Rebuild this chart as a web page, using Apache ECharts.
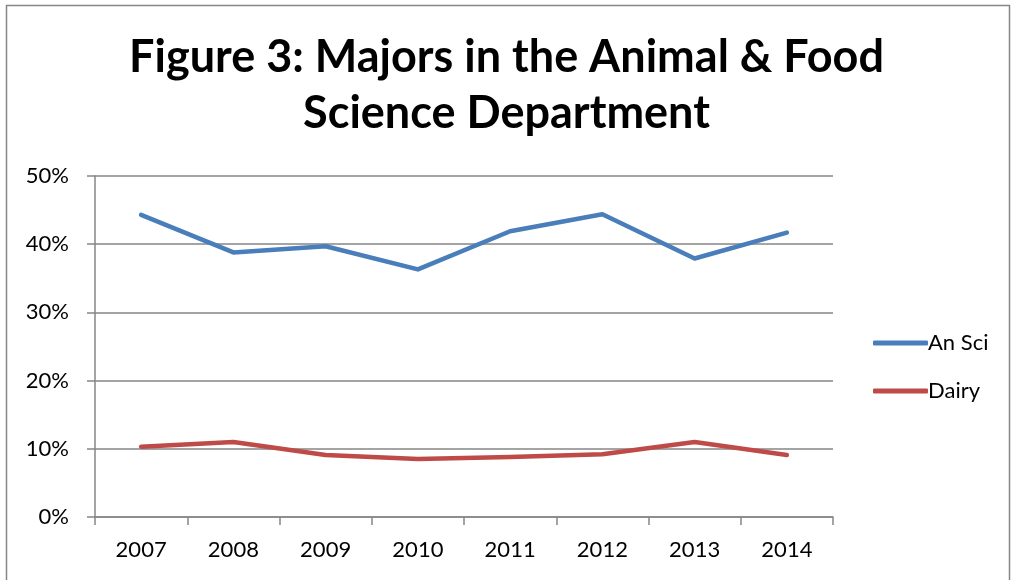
<!DOCTYPE html>
<html>
<head>
<meta charset="utf-8">
<script src="https://cdn.jsdelivr.net/npm/echarts@6/dist/echarts.min.js"></script>
<style>
  html, body { margin: 0; padding: 0; background: #fff; }
  #chart { width: 1013px; height: 580px; }
</style>
</head>
<body>
<div id="chart"></div>
<script>
// data
var years = ["2007", "2008", "2009", "2010", "2011", "2012", "2013", "2014"];
var anSci = [0.443, 0.388, 0.397, 0.363, 0.419, 0.444, 0.379, 0.417];
var dairy = [0.103, 0.110, 0.091, 0.085, 0.088, 0.092, 0.110, 0.091];
var yTicks = [0, 0.1, 0.2, 0.3, 0.4, 0.5];

var chart = echarts.init(document.getElementById('chart'));

var font = 'Lato, "Open Sans", sans-serif';
var axisGray = '#868686';

var option = {
    animation: false,
    backgroundColor: '#fff',
    textStyle: { fontFamily: font },
    title: {
        text: 'Figure 3: Majors in the Animal & Food\nScience Department',
        left: 'center',
        top: 24,
        textStyle: {
            fontFamily: font,
            fontWeight: 'bold',
            fontSize: 45,
            lineHeight: 56,
            color: '#000'
        }
    },
    graphic: [{
        type: 'rect',
        shape: { x: 6.5, y: 5.5, width: 1003, height: 600 },
        style: { fill: 'none', stroke: axisGray, lineWidth: 1.5 },
        silent: true
    }],
    legend: {
        orient: 'vertical',
        left: 868,
        top: 327,
        itemWidth: 55,
        itemHeight: 5,
        itemGap: 26,
        icon: 'roundRect',
        textStyle: { fontFamily: font, fontSize: 22, color: '#000', padding: [0, 0, 0, -5] },
        data: ['An Sci', 'Dairy']
    },
    grid: { left: 95, right: 180, top: 176, bottom: 63 },
    xAxis: {
        type: 'category',
        data: years,
        boundaryGap: true,
        axisLine: { lineStyle: { color: axisGray, width: 1.5 } },
        axisTick: { show: true, length: 8, interval: 0, lineStyle: { color: axisGray, width: 1.5 } },
        axisLabel: { color: '#000', fontSize: 22, margin: 22, fontFamily: font }
    },
    yAxis: {
        type: 'value',
        min: 0,
        max: 0.5,
        interval: 0.1,
        axisLine: { show: true, lineStyle: { color: axisGray, width: 1.5 } },
        axisTick: { show: true, length: 8, lineStyle: { color: axisGray, width: 1.5 } },
        splitLine: { show: true, lineStyle: { color: axisGray, width: 1.5 } },
        axisLabel: {
            color: '#000', fontSize: 22, margin: 26, fontFamily: font,
            formatter: function (v) { return Math.round(v * 100) + '%'; }
        }
    },
    series: [
        {
            name: 'An Sci',
            type: 'line',
            data: anSci,
            symbol: 'none',
            lineStyle: { color: '#4A7EBB', width: 4.5, cap: 'round', join: 'round' },
            itemStyle: { color: '#4A7EBB' }
        },
        {
            name: 'Dairy',
            type: 'line',
            data: dairy,
            symbol: 'none',
            lineStyle: { color: '#BE4B48', width: 4.5, cap: 'round', join: 'round' },
            itemStyle: { color: '#BE4B48' }
        }
    ]
};

chart.setOption(option);
</script>
</body>
</html>
